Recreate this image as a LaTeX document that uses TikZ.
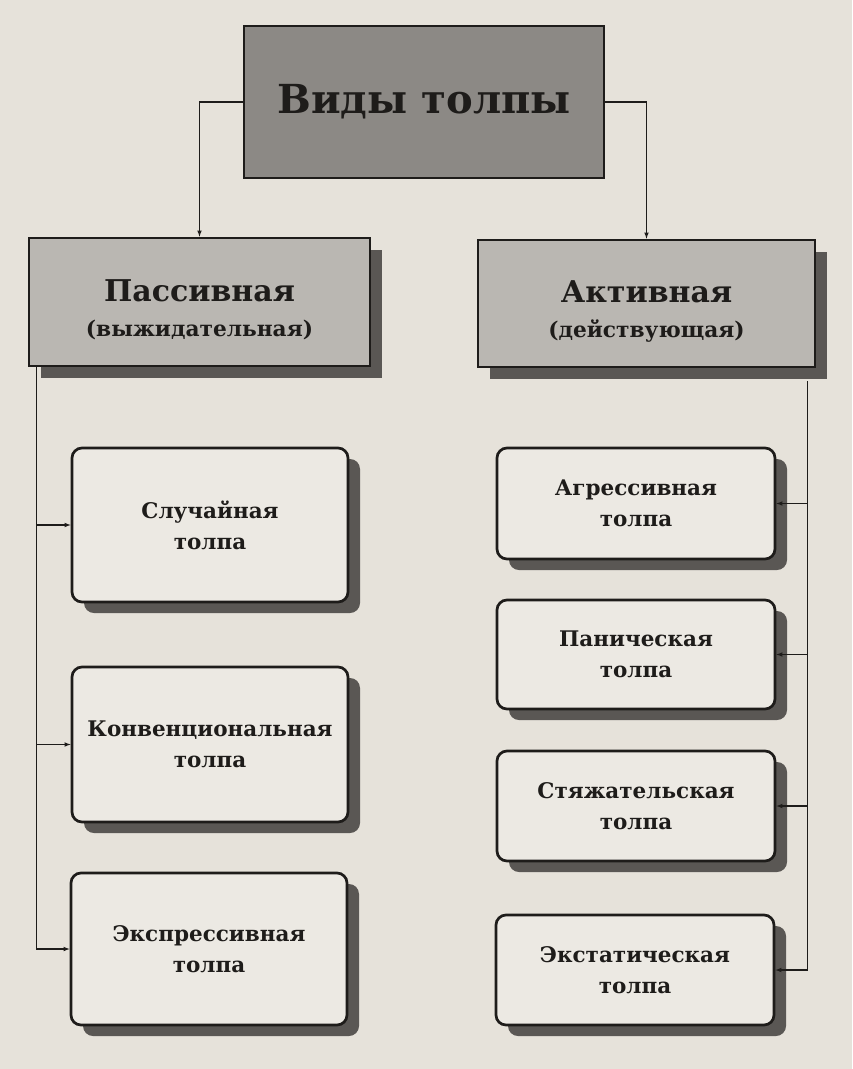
\documentclass[tikz,border=0pt]{standalone}
\usepackage{fontspec}
\setmainfont{DejaVu Serif}
\usetikzlibrary{calc,positioning,arrows,shadows}
\definecolor{paper}{HTML}{E6E2DA}
\definecolor{ink}{HTML}{1E1C1A}
\definecolor{topgray}{HTML}{8C8985}
\definecolor{midgray}{HTML}{BAB7B2}
\definecolor{boxwhite}{HTML}{ECE9E3}
\definecolor{shade}{HTML}{5A5754}
\pgfdeclarelayer{back}
\pgfsetlayers{back,main}

\begin{document}
\begin{tikzpicture}[x=1pt, y=-1pt]
\tikzstyle{every node}=[draw=ink, line width=2.7pt, text=ink, inner sep=0pt,
                        align=center, font=\bfseries]
\tikzstyle{headbox}=[fill=topgray, minimum width=360pt, minimum height=152pt,
                     font=\bfseries\fontsize{40}{46}\selectfont]
\tikzstyle{kindbox}=[fill=midgray, font=\bfseries\fontsize{21.7}{35}\selectfont,
                     drop shadow={shadow xshift=12pt, shadow yshift=-12pt,
                                  fill=shade, opacity=1}]
\tikzstyle{crowdbox}=[fill=boxwhite, rounded corners=10pt,
                      font=\bfseries\fontsize{21.5}{31}\selectfont,
                      drop shadow={shadow xshift=12pt, shadow yshift=-11pt,
                                   fill=shade, opacity=1}]
\tikzstyle{arr}=[draw=ink, line width=1.1pt, -latex]
\begin{pgfonlayer}{back}
\fill[paper] (0,0) rectangle (852,1069);
\end{pgfonlayer}
\node[headbox] (vid) at (424,102) {Виды толпы};
\node[kindbox, minimum width=341pt, minimum height=128pt] (pas) at (199.5,302)
  {{\fontsize{30}{35}\selectfont\rule{0pt}{38pt}Пассивная}\\(выжидательная)};
\node[kindbox, minimum width=337pt, minimum height=127pt] (akt) at (646.5,303.5)
  {{\fontsize{30}{35}\selectfont\rule{0pt}{38pt}Активная}\\(действующая)};
% passive crowds
\node[crowdbox, minimum width=276pt, minimum height=154pt] (sluch) at (210,525) {Случайная\\толпа};
\node[crowdbox, minimum width=276pt, minimum height=155pt] (konv) at (210,744.5) {Конвенциональная\\толпа};
\node[crowdbox, minimum width=276pt, minimum height=152pt] (expr) at (209,949) {Экспрессивная\\толпа};
% active crowds
\node[crowdbox, minimum width=278pt, minimum height=111pt] (aggr) at (636,503.5) {Агрессивная\\толпа};
\node[crowdbox, minimum width=278pt, minimum height=109pt] (pan) at (636,654.5) {Паническая\\толпа};
\node[crowdbox, minimum width=278pt, minimum height=110pt] (styazh) at (636,806) {Стяжательская\\толпа};
\node[crowdbox, minimum width=278pt, minimum height=110pt] (ekst) at (635,970) {Экстатическая\\толпа};
\coordinate (pl) at ($(pas.south west)+(9,0)$);
\coordinate (al) at ($(akt.south east)+(-9,13)$);
\draw[arr] (vid.west) -| (pas.north);
\draw[arr] (vid.east) -| (akt.north);
\draw[arr] (pl) |- (expr.west);
\draw[arr] (pl |- sluch.west) -- (sluch.west);
\draw[arr] (pl |- konv.west) -- (konv.west);
\draw[arr] (al) |- (ekst.east);
\draw[arr] (al |- aggr.east) -- (aggr.east);
\draw[arr] (al |- pan.east) -- (pan.east);
\draw[arr] (al |- styazh.east) -- (styazh.east);
\end{tikzpicture}
\end{document}
